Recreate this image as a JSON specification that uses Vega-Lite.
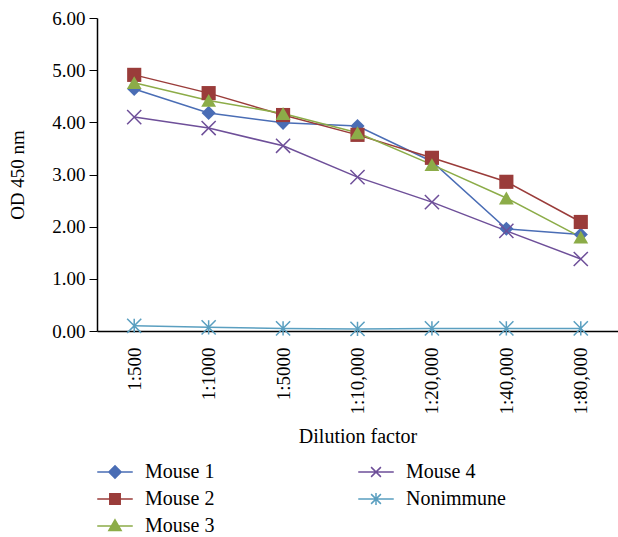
{
  "$schema": "https://vega.github.io/schema/vega-lite/v6.json",
  "autosize": {"type": "none"},
  "width": 521,
  "height": 313,
  "padding": {"left": 97, "top": 18, "right": 0, "bottom": 206},
  "background": "white",
  "config": {
    "view": {"stroke": null},
    "font": "Liberation Serif"
  },
  "data": {
    "values": [
      {"dilution": "1:500", "series": "Mouse 1", "od": 4.64},
      {"dilution": "1:1000", "series": "Mouse 1", "od": 4.18},
      {"dilution": "1:5000", "series": "Mouse 1", "od": 3.99},
      {"dilution": "1:10,000", "series": "Mouse 1", "od": 3.93},
      {"dilution": "1:20,000", "series": "Mouse 1", "od": 3.25},
      {"dilution": "1:40,000", "series": "Mouse 1", "od": 1.96},
      {"dilution": "1:80,000", "series": "Mouse 1", "od": 1.85},
      {"dilution": "1:500", "series": "Mouse 2", "od": 4.91},
      {"dilution": "1:1000", "series": "Mouse 2", "od": 4.56},
      {"dilution": "1:5000", "series": "Mouse 2", "od": 4.14},
      {"dilution": "1:10,000", "series": "Mouse 2", "od": 3.76},
      {"dilution": "1:20,000", "series": "Mouse 2", "od": 3.32},
      {"dilution": "1:40,000", "series": "Mouse 2", "od": 2.86},
      {"dilution": "1:80,000", "series": "Mouse 2", "od": 2.09},
      {"dilution": "1:500", "series": "Mouse 3", "od": 4.76},
      {"dilution": "1:1000", "series": "Mouse 3", "od": 4.42},
      {"dilution": "1:5000", "series": "Mouse 3", "od": 4.17},
      {"dilution": "1:10,000", "series": "Mouse 3", "od": 3.8},
      {"dilution": "1:20,000", "series": "Mouse 3", "od": 3.19},
      {"dilution": "1:40,000", "series": "Mouse 3", "od": 2.55},
      {"dilution": "1:80,000", "series": "Mouse 3", "od": 1.8},
      {"dilution": "1:500", "series": "Mouse 4", "od": 4.1},
      {"dilution": "1:1000", "series": "Mouse 4", "od": 3.89},
      {"dilution": "1:5000", "series": "Mouse 4", "od": 3.55},
      {"dilution": "1:10,000", "series": "Mouse 4", "od": 2.95},
      {"dilution": "1:20,000", "series": "Mouse 4", "od": 2.47},
      {"dilution": "1:40,000", "series": "Mouse 4", "od": 1.92},
      {"dilution": "1:80,000", "series": "Mouse 4", "od": 1.38},
      {"dilution": "1:500", "series": "Nonimmune", "od": 0.1},
      {"dilution": "1:1000", "series": "Nonimmune", "od": 0.07},
      {"dilution": "1:5000", "series": "Nonimmune", "od": 0.05},
      {"dilution": "1:10,000", "series": "Nonimmune", "od": 0.04},
      {"dilution": "1:20,000", "series": "Nonimmune", "od": 0.05},
      {"dilution": "1:40,000", "series": "Nonimmune", "od": 0.05},
      {"dilution": "1:80,000", "series": "Nonimmune", "od": 0.05}
    ]
  },
  "encoding": {
    "x": {
      "field": "dilution",
      "type": "ordinal",
      "sort": ["1:500", "1:1000", "1:5000", "1:10,000", "1:20,000", "1:40,000", "1:80,000"],
      "scale": {"type": "point", "padding": 0.5},
      "axis": {
        "title": "Dilution factor",
        "titleFont": "Liberation Serif",
        "titleFontSize": 20,
        "titleFontWeight": "normal",
        "titleColor": "black",
        "titlePadding": 12,
        "labelAngle": -90,
        "labelFont": "Liberation Serif",
        "labelFontSize": 19,
        "labelColor": "black",
        "labelPadding": 16,
        "ticks": false,
        "domainColor": "black",
        "domainWidth": 1.5
      }
    },
    "y": {
      "field": "od",
      "type": "quantitative",
      "scale": {"domain": [0, 6], "nice": false},
      "axis": {
        "title": "OD 450 nm",
        "titleFont": "Liberation Serif",
        "titleFontSize": 19,
        "titleFontWeight": "normal",
        "titleColor": "black",
        "titlePadding": 24,
        "values": [0, 1, 2, 3, 4, 5, 6],
        "format": ".2f",
        "grid": false,
        "labelFont": "Liberation Serif",
        "labelFontSize": 19,
        "labelColor": "black",
        "labelPadding": 4,
        "tickColor": "black",
        "tickSize": 8,
        "domainColor": "black",
        "domainWidth": 1.5
      }
    },
    "color": {
      "field": "series",
      "type": "nominal",
      "scale": {
        "domain": ["Mouse 1", "Mouse 2", "Mouse 3", "Mouse 4", "Nonimmune"],
        "range": ["#4A6DB5", "#9A3C3A", "#8CAC48", "#6E4F99", "#5A9FC0"]
      },
      "legend": {
        "title": null,
        "orient": "none",
        "legendX": 8,
        "legendY": 444,
        "columns": 2,
        "columnPadding": 140,
        "rowPadding": 7,
        "labelFont": "Liberation Serif",
        "labelFontSize": 20,
        "labelColor": "black",
        "labelOffset": 20,
        "symbolSize": 150,
        "encode": {
          "symbols": {
            "update": {
              "shape": {"signal": "datum.value === 'Mouse 1' ? 'M-2.9,0L2.9,0M0,-1L1,0L0,1L-1,0Z' : datum.value === 'Mouse 2' ? 'M-2.9,0L2.9,0M-0.85,-0.85L0.85,-0.85L0.85,0.85L-0.85,0.85Z' : datum.value === 'Mouse 3' ? 'M-2.9,0L2.9,0M0,-1L1,0.75L-1,0.75Z' : datum.value === 'Mouse 4' ? 'M-2.9,0L2.9,0M-0.8,-0.8L0.8,0.8M-0.8,0.8L0.8,-0.8' : 'M-2.9,0L2.9,0M0,-1L0,1M-0.8,-0.8L0.8,0.8M-0.8,0.8L0.8,-0.8'"},
              "stroke": {"scale": "color", "field": "value"},
              "fill": {"scale": "color", "field": "value"},
              "strokeWidth": {"value": 1.5},
              "size": {"value": 150}
            }
          }
        }
      }
    }
  },
  "layer": [
    {
      "mark": {"type": "line", "strokeWidth": 1.5}
    },
    {
      "transform": [{"filter": "datum.series === 'Mouse 1'"}],
      "mark": {"type": "point", "filled": true, "opacity": 1, "size": 200, "shape": "diamond"}
    },
    {
      "transform": [{"filter": "datum.series === 'Mouse 2'"}],
      "mark": {"type": "point", "filled": true, "opacity": 1, "size": 200, "shape": "square"}
    },
    {
      "transform": [{"filter": "datum.series === 'Mouse 3'"}],
      "mark": {"type": "point", "filled": true, "opacity": 1, "size": 220, "shape": "triangle-up"}
    },
    {
      "transform": [{"filter": "datum.series === 'Mouse 4'"}],
      "mark": {"type": "point", "filled": false, "opacity": 1, "size": 200, "strokeWidth": 1.5, "shape": "M-1,-1L1,1M-1,1L1,-1"}
    },
    {
      "transform": [{"filter": "datum.series === 'Nonimmune'"}],
      "mark": {"type": "point", "filled": false, "opacity": 1, "size": 200, "strokeWidth": 1.5, "shape": "M0,-1L0,1M-1,-1L1,1M-1,1L1,-1"}
    }
  ]
}
